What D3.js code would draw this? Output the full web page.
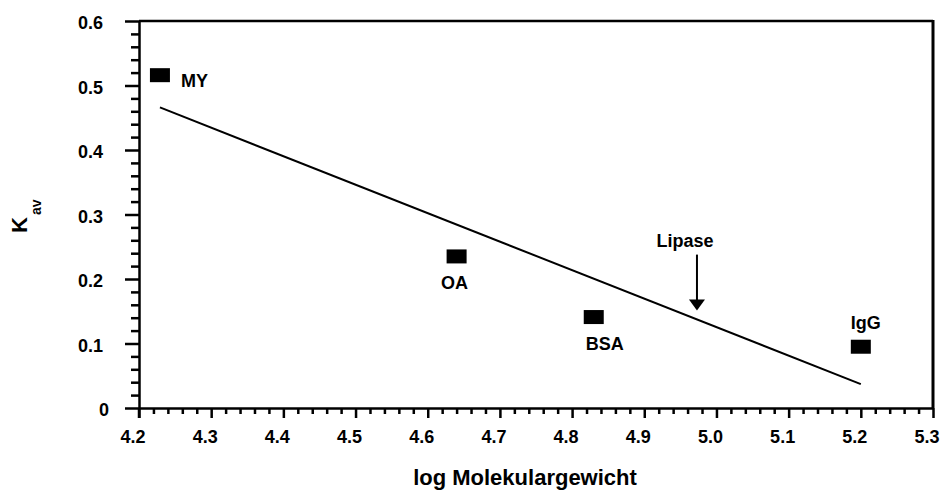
<!DOCTYPE html>
<html>
<head>
<meta charset="utf-8">
<script src="https://cdn.jsdelivr.net/npm/d3@7/dist/d3.min.js"></script>
<style>
  html, body { margin: 0; padding: 0; background: #fff; }
  svg { display: block; font-family: "Liberation Sans", Arial, sans-serif; font-weight: bold; }
</style>
</head>
<body>
<svg id="chart" width="940" height="491"></svg>
<script>
// ---- data ----
const proteins = ["MY", "OA", "BSA", "IgG"];
const logMW = [4.229, 4.64, 4.83, 5.2];
const kav = [0.516, 0.235, 0.141, 0.095];

// fitted calibration line (end points)
const fitX = [4.229, 5.2];
const fitY = [0.466, 0.037];

// Lipase marker (arrow tip)
const lipaseLabel = "Lipase";
const lipaseX = 4.973;
const lipaseY = 0.151;

const xTicks = [4.2, 4.3, 4.4, 4.5, 4.6, 4.7, 4.8, 4.9, 5.0, 5.1, 5.2, 5.3];
const yTicks = [0, 0.1, 0.2, 0.3, 0.4, 0.5, 0.6];
const xMinor = [4.22,4.24,4.26,4.28, 4.32,4.34,4.36,4.38, 4.42,4.44,4.46,4.48, 4.52,4.54,4.56,4.58,
                4.62,4.64,4.66,4.68, 4.72,4.74,4.76,4.78, 4.82,4.84,4.86,4.88, 4.92,4.94,4.96,4.98,
                5.02,5.04,5.06,5.08, 5.12,5.14,5.16,5.18, 5.22,5.24,5.26,5.28];
const yMinor = [0.02,0.04,0.06,0.08, 0.12,0.14,0.16,0.18, 0.22,0.24,0.26,0.28,
                0.32,0.34,0.36,0.38, 0.42,0.44,0.46,0.48, 0.52,0.54,0.56,0.58];

const xTitle = "log Molekulargewicht";
const yTitleMain = "K";
const yTitleSub = "av";

// ---- layout ----
const L = 139, R = 933, T = 21, B = 408;
const svg = d3.select("#chart");
const x = d3.scaleLinear().domain([4.2, 5.3]).range([L, R]);
const y = d3.scaleLinear().domain([0, 0.6]).range([B, T]);

// frame (top and right)
svg.append("line").attr("x1", L).attr("x2", R).attr("y1", T).attr("y2", T)
  .attr("stroke", "#000").attr("stroke-width", 2.5);
svg.append("line").attr("x1", R).attr("x2", R).attr("y1", T - 1).attr("y2", B)
  .attr("stroke", "#000").attr("stroke-width", 3);

// minor ticks
svg.append("g").attr("transform", `translate(0,${B})`)
  .call(d3.axisBottom(x).tickValues(xMinor).tickSize(6).tickFormat(""))
  .call(g => g.select(".domain").remove())
  .call(g => g.selectAll("line").attr("stroke-width", 2.5));
svg.append("g").attr("transform", `translate(${L},0)`)
  .call(d3.axisLeft(y).tickValues(yMinor).tickSize(8).tickFormat(""))
  .call(g => g.select(".domain").remove())
  .call(g => g.selectAll("line").attr("stroke-width", 2.5));

// major x axis
svg.append("g").attr("transform", `translate(0,${B})`)
  .call(d3.axisBottom(x).tickValues(xTicks).tickSize(10).tickSizeOuter(0).tickFormat(d3.format(".1f")))
  .call(g => g.select(".domain").attr("stroke-width", 2.5))
  .call(g => g.selectAll("line").attr("stroke-width", 2.5))
  .call(g => g.selectAll("text")
    .attr("font-family", "Liberation Sans, Arial, sans-serif").attr("font-weight", "bold")
    .attr("font-size", 18).attr("fill", "#000").attr("dx", -6.5).attr("y", 22).attr("dy", "0.71em"));

// major y axis
svg.append("g").attr("transform", `translate(${L},0)`)
  .call(d3.axisLeft(y).tickValues(yTicks).tickSize(14).tickSizeOuter(0)
    .tickFormat(d => d === 0 ? "0" : d3.format(".1f")(d)))
  .call(g => g.select(".domain").attr("stroke-width", 2.5))
  .call(g => g.selectAll("line").attr("stroke-width", 2.5))
  .call(g => g.selectAll("text")
    .attr("font-family", "Liberation Sans, Arial, sans-serif").attr("font-weight", "bold")
    .attr("font-size", 18).attr("fill", "#000")
    .attr("x", d => d === 0 ? -30 : -36).attr("dy", "0.42em"));

// extend y axis a bit below the x axis
svg.append("line").attr("x1", L).attr("x2", L).attr("y1", B).attr("y2", B + 10)
  .attr("stroke", "#000").attr("stroke-width", 2.5);

// fit line
svg.append("line")
  .attr("x1", x(fitX[0])).attr("y1", y(fitY[0]))
  .attr("x2", x(fitX[1])).attr("y2", y(fitY[1]))
  .attr("stroke", "#000").attr("stroke-width", 2);

// data markers
const pts = proteins.map((p, i) => ({ p, x: logMW[i], y: kav[i] }));
svg.append("g").selectAll("rect").data(pts).join("rect")
  .attr("x", d => x(d.x) - 10).attr("y", d => y(d.y) - 7)
  .attr("width", 20).attr("height", 14).attr("fill", "#000");

// point labels
const labelPos = {
  MY:  { dx: 21, dy: 12, anchor: "start" },
  OA:  { dx: -2, dy: 33, anchor: "middle" },
  BSA: { dx: 11, dy: 33, anchor: "middle" },
  IgG: { dx: 5, dy: -18, anchor: "middle" }
};
svg.append("g").selectAll("text").data(pts).join("text")
  .attr("x", d => x(d.x) + labelPos[d.p].dx)
  .attr("y", d => y(d.y) + labelPos[d.p].dy)
  .attr("text-anchor", d => labelPos[d.p].anchor)
  .attr("font-size", 18).attr("fill", "#000")
  .text(d => d.p);

// Lipase arrow
const ax = x(lipaseX), ay = y(lipaseY);
svg.append("line").attr("x1", ax).attr("x2", ax).attr("y1", ay - 56).attr("y2", ay - 9)
  .attr("stroke", "#000").attr("stroke-width", 2);
svg.append("path")
  .attr("d", `M${ax - 8},${ay - 11} L${ax + 8},${ay - 11} L${ax},${ay} Z`)
  .attr("fill", "#000");
svg.append("text").attr("x", ax - 12).attr("y", ay - 64)
  .attr("text-anchor", "middle").attr("font-size", 18).attr("fill", "#000")
  .text(lipaseLabel);

// axis titles
svg.append("text").attr("x", 525).attr("y", 485).attr("text-anchor", "middle")
  .attr("font-size", 22).attr("fill", "#000").text(xTitle);

const yt = svg.append("text").attr("transform", "translate(27,233) rotate(-90)")
  .attr("fill", "#000");
yt.append("tspan").attr("font-size", 22).text(yTitleMain);
yt.append("tspan").attr("font-size", 14).attr("dx", 2).attr("dy", 14).text(yTitleSub);
</script>
</body>
</html>
